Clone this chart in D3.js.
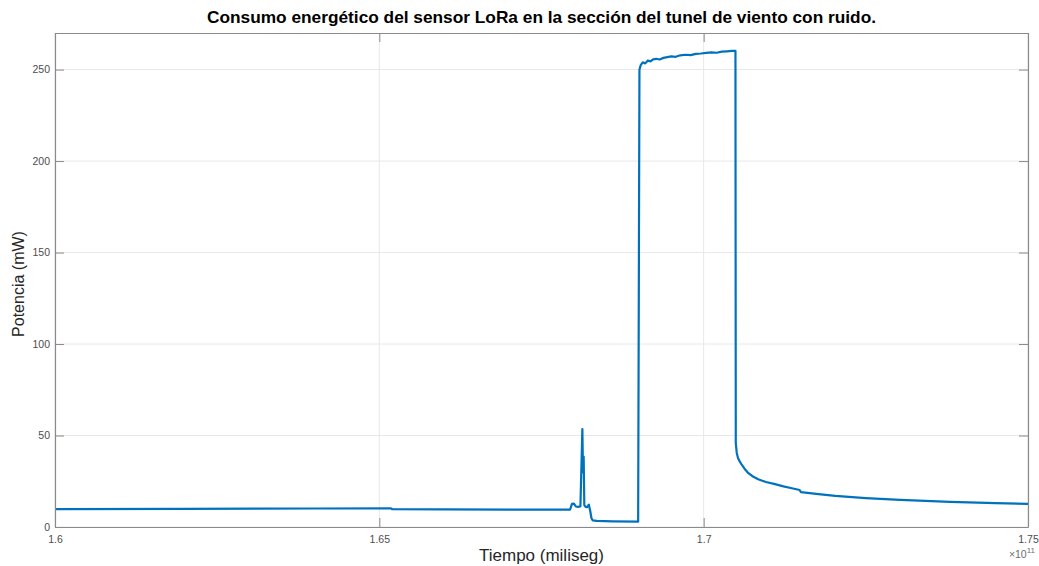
<!DOCTYPE html>
<html>
<head>
<meta charset="utf-8">
<script src="https://cdn.jsdelivr.net/npm/d3@7"></script>
<style>
  body { margin: 0; background: #fff; }
  text { font-family: "Liberation Sans", Arial, sans-serif; }
</style>
</head>
<body>
<div id="chart"></div>
<script>
// time in units of 1e11 ms, power in mW
const timeVals = [
  1.6000, 1.6200, 1.6400, 1.6518, 1.6520, 1.6600, 1.6700, 1.6794,
  1.6797, 1.6800, 1.6803, 1.6806, 1.6810, 1.6813, 1.6814, 1.6815, 1.6816, 1.6818,
  1.6820, 1.6823, 1.6825, 1.6827, 1.6829, 1.6835, 1.6860, 1.6899,
  1.6901, 1.6903, 1.6906, 1.6910, 1.6914, 1.6918, 1.6922, 1.6927, 1.6932, 1.6938,
  1.6944, 1.6950, 1.6957, 1.6964, 1.6972, 1.6980, 1.6988, 1.6996, 1.7004, 1.7012,
  1.7020, 1.7028, 1.7036, 1.7043, 1.7049,
  1.70495, 1.7051, 1.7053, 1.7056, 1.7059, 1.7064, 1.7069, 1.7076, 1.7084, 1.7096,
  1.7110, 1.7123, 1.7136, 1.7148, 1.7150,
  1.7177, 1.7203, 1.7250, 1.7303, 1.7380, 1.7450, 1.7500
];
const powerVals = [
  9.8, 9.9, 10.1, 10.2, 9.7, 9.6, 9.5, 9.5,
  12.6, 12.8, 11.2, 11.0, 11.3, 53.5, 30.0, 38.5, 12.0, 11.0,
  10.8, 12.2, 9.0, 4.8, 3.6, 3.3, 3.1, 2.9,
  250.0, 252.5, 254.0, 253.4, 255.0, 254.5, 255.6, 255.9, 255.5, 256.4,
  256.8, 257.2, 257.0, 257.8, 258.1, 257.9, 258.6, 258.8, 259.1, 259.4,
  259.2, 259.8, 260.0, 260.2, 260.3,
  46.0, 40.5, 37.6, 35.6, 33.9, 31.4, 29.4, 27.6, 26.1, 24.6,
  23.4, 22.2, 21.2, 20.2, 19.1,
  18.0, 17.0, 15.8, 14.8, 13.7, 13.0, 12.6
];
const xTicks = [1.6, 1.65, 1.7, 1.75];
const xTickLabels = ["1.6", "1.65", "1.7", "1.75"];
const yTicks = [0, 50, 100, 150, 200, 250];

const width = 1039, height = 566;
const margin = { top: 33, right: 11, bottom: 39, left: 55 };
const innerW = width - margin.left - margin.right;
const innerH = height - margin.top - margin.bottom;

const data = timeVals.map((t, i) => ({ t: t, p: powerVals[i] }));

const xScale = d3.scaleLinear().domain([1.6, 1.75]).range([0, innerW]);
const yScale = d3.scaleLinear().domain([0, 270]).range([innerH, 0]);

const svg = d3.select("#chart")
  .append("svg")
  .attr("width", width)
  .attr("height", height);

const g = svg.append("g")
  .attr("transform", "translate(" + margin.left + "," + margin.top + ")");

g.append("rect")
  .attr("width", innerW)
  .attr("height", innerH)
  .attr("fill", "#fff");

// grid
g.append("g")
  .selectAll("line")
  .data(xTicks)
  .enter()
  .append("line")
  .attr("x1", (d) => xScale(d))
  .attr("x2", (d) => xScale(d))
  .attr("y1", 0)
  .attr("y2", innerH)
  .attr("stroke", "#e8e8e8")
  .attr("stroke-width", 1);

g.append("g")
  .selectAll("line")
  .data(yTicks)
  .enter()
  .append("line")
  .attr("x1", 0)
  .attr("x2", innerW)
  .attr("y1", (d) => yScale(d))
  .attr("y2", (d) => yScale(d))
  .attr("stroke", "#e8e8e8")
  .attr("stroke-width", 1);

// line
const line = d3.line()
  .x((d) => xScale(d.t))
  .y((d) => yScale(d.p));

g.append("path")
  .datum(data)
  .attr("fill", "none")
  .attr("stroke", "#0072BD")
  .attr("stroke-width", 2.2)
  .attr("stroke-linejoin", "round")
  .attr("d", line);

// axes (ticks inward, box on)
const axisColor = "#8a8a8a";
const tickLen = 9;

const xAxisBottom = d3.axisBottom(xScale)
  .tickValues(xTicks)
  .tickFormat((d, i) => xTickLabels[i])
  .tickSizeInner(-tickLen)
  .tickSizeOuter(0)
  .tickPadding(9);

const xAxisTop = d3.axisTop(xScale)
  .tickValues(xTicks)
  .tickFormat("")
  .tickSizeInner(-tickLen)
  .tickSizeOuter(0);

const yAxisLeft = d3.axisLeft(yScale)
  .tickValues(yTicks)
  .tickSizeInner(-tickLen)
  .tickSizeOuter(0)
  .tickPadding(5);

const yAxisRight = d3.axisRight(yScale)
  .tickValues(yTicks)
  .tickFormat("")
  .tickSizeInner(-tickLen)
  .tickSizeOuter(0);

const axes = [
  g.append("g").attr("transform", "translate(0," + innerH + ")").call(xAxisBottom),
  g.append("g").call(xAxisTop),
  g.append("g").call(yAxisLeft),
  g.append("g").attr("transform", "translate(" + innerW + ",0)").call(yAxisRight)
];
axes.forEach((a) => {
  a.select(".domain").attr("stroke", axisColor).attr("stroke-width", 1.2);
  a.selectAll(".tick line").attr("stroke", axisColor);
  a.selectAll(".tick text")
    .attr("fill", "#4d4d4d")
    .style("font-size", "10.5px");
});

// exponent
const expLabel = svg.append("text")
  .attr("x", width - 4)
  .attr("y", 558)
  .attr("text-anchor", "end")
  .attr("fill", "#6e6e6e")
  .style("font-size", "10.5px");
expLabel.append("tspan").text("\u00d710");
expLabel.append("tspan").attr("dy", -5).style("font-size", "8px").text("11");

// labels
svg.append("text")
  .attr("x", margin.left + innerW / 2)
  .attr("y", 561)
  .attr("text-anchor", "middle")
  .attr("fill", "#262626")
  .style("font-size", "17px")
  .text("Tiempo (miliseg)");

svg.append("text")
  .attr("transform", "translate(24," + (margin.top + innerH / 2 + 4) + ") rotate(-90)")
  .attr("text-anchor", "middle")
  .attr("fill", "#262626")
  .style("font-size", "16px")
  .text("Potencia (mW)");

svg.append("text")
  .attr("x", margin.left + innerW / 2)
  .attr("y", 23)
  .attr("text-anchor", "middle")
  .attr("fill", "#000")
  .attr("textLength", 669)
  .attr("lengthAdjust", "spacingAndGlyphs")
  .style("font-size", "16.5px")
  .style("font-weight", "bold")
  .text("Consumo energético del sensor LoRa en la sección del tunel de viento con ruido.");
</script>
</body>
</html>
